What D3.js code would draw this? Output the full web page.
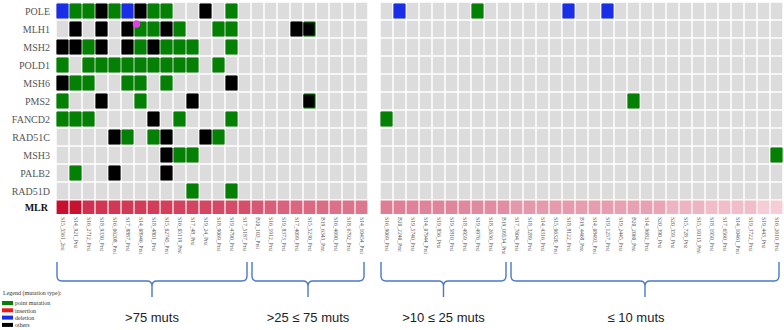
<!DOCTYPE html>
<html>
<head>
<meta charset="utf-8">
<script src="https://cdn.jsdelivr.net/npm/d3@7"></script>
<style>
  body { margin: 0; background: #fff; }
  svg { display: block; }
</style>
</head>
<body>
<svg id="chart" width="784" height="330"></svg>
<script>
// Genes (rows)
const genes = ['POLE', 'MLH1', 'MSH2', 'POLD1', 'MSH6', 'PMS2', 'FANCD2', 'RAD51C', 'MSH3', 'PALB2', 'RAD51D']

// Samples (columns), left and right panels
const leftSamples = ['S15_5561_2rst', 'S14_921_Prst', 'S16_2712_Prst', 'S18_9330_Prst', 'S16_06208_Prst',
    'S17_8887_Prst', 'S14_08946_Prst', 'S18_4801_Prst', 'S15_02745_Prst', 'S16_05119_Prst', 'S17_48_Prst',
    'S19_24_Prst', 'S18_9069_Prst', 'S19_4790_Prst', 'S17_5187_Prst',
    'B20_103_Prst', 'S16_1912_Prst', 'S19_8373_Prst', 'S17_4099_Prst', 'S15_5230_Prst', 'B19_6343_Prst',
    'S16_4690_Prst', 'S18_6792_Prst', 'S14_10454_Prst']
const rightSamples = ['S16_9069_Prst', 'B20_2240_Prst', 'S19_5740_Prst', 'S14_07944_Prst', 'S19_856_Prst',
    'S19_5810_Prst', 'S18_4959_Prst', 'S19_4976_Prst', 'S18_2636_Prst', 'B19_09534_Prst',
    'S17_7604_Prst', 'S18_3289_Prst', 'S14_4316_Prst', 'S15_06320_Prst', 'S18_8122_Prst', 'B19_4468_Prst',
    'S14_08493_Prst', 'S19_1257_Prst', 'S19_2445_Prst', 'B20_2060_Prst', 'S14_9682_Prst', 'S20_390_Prst',
    'S20_359_Prst', 'S15_728_Prst', 'S15_10115_Prst', 'S18_1950_Prst', 'S17_6560_Prst', 'S14_10461_Prst',
    'S19_3722_Prst', 'S19_443_Prst', 'S16_2610_Prst']

// Left panel mutation codes, one char per sample:
// g = point mutation, b = deletion, k = others, x = others + point mutation, . = none
const leftCodes = {
    POLE:   'bggkgbkgg..k.g.' + '.........',
    MLH1:   '.k.k.kggkg..gg.' + '...kx....',
    MSH2:   'kkgk.kgkggg..g.' + '.........',
    POLD1:  'g.ggggggggg.g..' + '.........',
    MSH6:   'kgg..gg.g....k.' + '.........',
    PMS2:   'g..k..g...k....' + '....x....',
    FANCD2: 'ggg....k.g...g.' + '.........',
    RAD51C: '....kg.gk..kg..' + '.........',
    MSH3:   '........kgg....' + '.........',
    PALB2:  '.g..k...k......' + '.........',
    RAD51D: '..........g..g.' + '.........'
}

// Right panel mutations [sample, gene, code]
const rightMutations = [
    ['B20_2240_Prst', 'POLE', 'b'],
    ['S19_4976_Prst', 'POLE', 'g'],
    ['S18_8122_Prst', 'POLE', 'b'],
    ['S19_1257_Prst', 'POLE', 'b'],
    ['B20_2060_Prst', 'PMS2', 'g'],
    ['S16_9069_Prst', 'FANCD2', 'g'],
    ['S16_2610_Prst', 'MSH3', 'g']
]

// Extra marker drawn over a cell
const dotMarkers = [['S14_08946_Prst', 'MLH1']]

// Mutation load (MLR row), left then right
const leftLoad = [310, 290, 150, 140, 135, 130, 125, 120, 115, 110, 105, 100, 95, 90, 85,
    70, 62, 56, 50, 46, 42, 38, 34, 30]
const rightLoad = [24, 23, 22, 21, 20, 19, 18, 17, 16, 15,
    10, 10, 9, 9, 9, 8, 8, 8, 7, 7, 7, 6,
    3, 3, 3, 2, 2, 2, 2, 1, 1]

// Groups for brackets
const groupLabels = ['>75 muts', '>25 \u2264 75 muts', '>10 \u2264 25 muts', '\u2264 10 muts']
const groupSizes = [15, 9, 10, 21]

// Legend
const legendLabels = ['point mutation', 'insertion', 'deletion', 'others']
const legendColors = ['#048004', '#f01818', '#1a2ee8', '#000000']

const colors = { g: '#048004', b: '#1a2ee8', k: '#000000' }

const svg = d3.select('#chart')

// Scales
const xLeft = d3.scaleBand().domain(leftSamples).range([56, 368])
const xRight = d3.scaleBand().domain(rightSamples).range([380, 783])
const yScale = d3.scaleBand().domain(genes).range([2, 200])
const loadColor = d3.scaleLog()
    .domain([1, 5, 15, 60, 300])
    .range(['#f4cdd6', '#eaa9b8', '#e18ea3', '#d9607c', '#c8102e'])
    .clamp(true)

const mlrY = 200.5
const mlrH = 13.5

// Draw one panel
function drawPanel(samples, xScale, load, mutations) {
    const g = svg.append('g')
    const bw = xScale.bandwidth()
    const bh = yScale.bandwidth()

    // background cells
    const cells = []
    genes.forEach(gene => samples.forEach(s => cells.push({ gene: gene, sample: s })))
    g.selectAll('.cell')
        .data(cells)
        .enter()
        .append('rect')
        .attr('class', 'cell')
        .attr('x', d => xScale(d.sample) + 0.75)
        .attr('y', d => yScale(d.gene) + 0.75)
        .attr('width', bw - 1.5)
        .attr('height', bh - 1.5)
        .style('fill', '#dcdcdc')

    // mutations
    const muts = g.selectAll('.mut')
        .data(mutations)
        .enter()
        .append('g')
        .attr('class', 'mut')
        .attr('transform', d => 'translate(' + xScale(d[0]) + ',' + yScale(d[1]) + ')')

    muts.append('rect')
        .attr('x', 0.4)
        .attr('y', 1.4)
        .attr('width', bw - 0.8)
        .attr('height', bh - 2.8)
        .attr('rx', 1.2)
        .style('fill', d => d[2] == 'x' ? colors.g : colors[d[2]])

    muts.filter(d => d[2] == 'x')
        .append('rect')
        .attr('x', 0.4)
        .attr('y', 2.4)
        .attr('width', bw - 1.8)
        .attr('height', bh - 4.8)
        .attr('rx', 1)
        .style('fill', colors.k)

    // MLR row
    g.selectAll('.mlr')
        .data(samples)
        .enter()
        .append('rect')
        .attr('class', 'mlr')
        .attr('x', d => xScale(d) + 0.6)
        .attr('y', mlrY)
        .attr('width', bw - 1.2)
        .attr('height', mlrH)
        .style('fill', (d, i) => loadColor(load[i]))

    // column labels
    g.selectAll('.col-label')
        .data(samples)
        .enter()
        .append('text')
        .attr('class', 'col-label')
        .attr('transform', d => 'translate(' + (xScale(d) + bw / 2 - 1.8) + ',217) rotate(90)')
        .attr('text-anchor', 'start')
        .style('font-family', 'Liberation Serif')
        .style('font-size', '5.6px')
        .style('fill', '#555')
        .text(d => d)
}

// Build left mutation list from codes
const leftMutations = []
genes.forEach(gene => {
    leftCodes[gene].split('').forEach((c, i) => {
        if (c != '.') leftMutations.push([leftSamples[i], gene, c])
    })
})

drawPanel(leftSamples, xLeft, leftLoad, leftMutations)
drawPanel(rightSamples, xRight, rightLoad, rightMutations)

// dot markers
svg.selectAll('.dot')
    .data(dotMarkers)
    .enter()
    .append('circle')
    .attr('cx', d => xLeft(d[0]) + 2.5)
    .attr('cy', d => yScale(d[1]) + 4)
    .attr('r', 3.8)
    .style('fill', '#e040e6')

// Row labels
svg.selectAll('.row-label')
    .data(genes)
    .enter()
    .append('text')
    .attr('class', 'row-label')
    .attr('x', 50)
    .attr('y', d => yScale(d) + yScale.bandwidth() / 2 + 3.5)
    .attr('text-anchor', 'end')
    .style('font-family', 'Liberation Serif')
    .style('font-size', '10px')
    .style('fill', '#555')
    .text(d => d)

svg.append('text')
    .attr('x', 48)
    .attr('y', mlrY + mlrH / 2 + 3.5)
    .attr('text-anchor', 'end')
    .style('font-family', 'Liberation Serif')
    .style('font-size', '10px')
    .style('font-weight', 'bold')
    .style('fill', '#111')
    .text('MLR')

// Brackets
const allSamples = leftSamples.concat(rightSamples)
const xOf = s => leftSamples.includes(s) ? xLeft(s) : xRight(s)
let start = 0
const brackets = groupSizes.map((n, i) => {
    const first = allSamples[start]
    const last = allSamples[start + n - 1]
    const scale = leftSamples.includes(first) ? xLeft : xRight
    start += n
    return { label: groupLabels[i], x0: xOf(first) + 1, x1: xOf(last) + scale.bandwidth() - 4 }
})

function bracePath(x0, x1) {
    const top = 262, yh = 281, tip = 297, r = 5
    const cx = (x0 + x1) / 2
    return 'M' + x0 + ',' + top + ' L' + x0 + ',' + (yh - r) +
        ' Q' + x0 + ',' + yh + ' ' + (x0 + r) + ',' + yh +
        ' L' + (cx - r) + ',' + yh +
        ' Q' + cx + ',' + yh + ' ' + cx + ',' + (yh + r) +
        ' L' + cx + ',' + tip +
        ' M' + cx + ',' + (yh + r) +
        ' Q' + cx + ',' + yh + ' ' + (cx + r) + ',' + yh +
        ' L' + (x1 - r) + ',' + yh +
        ' Q' + x1 + ',' + yh + ' ' + x1 + ',' + (yh - r) +
        ' L' + x1 + ',' + top
}

svg.selectAll('.brace')
    .data(brackets)
    .enter()
    .append('path')
    .attr('class', 'brace')
    .attr('d', d => bracePath(d.x0, d.x1))
    .style('fill', 'none')
    .style('stroke', '#4a78c8')
    .style('stroke-width', 1.4)

svg.selectAll('.brace-label')
    .data(brackets)
    .enter()
    .append('text')
    .attr('class', 'brace-label')
    .attr('x', (d, i) => (d.x0 + d.x1) / 2 - (i == 3 ? 9 : 0))
    .attr('y', 322)
    .attr('text-anchor', 'middle')
    .style('font-family', 'Liberation Sans')
    .style('font-size', '13px')
    .style('fill', '#222')
    .text(d => d.label)

// Legend
const legend = svg.append('g')
legend.append('text')
    .attr('x', 3)
    .attr('y', 295)
    .style('font-family', 'Liberation Serif')
    .style('font-size', '6px')
    .style('fill', '#333')
    .text('Legend (mutation type):')

const items = legend.selectAll('.legend-item')
    .data(legendLabels)
    .enter()
    .append('g')
    .attr('class', 'legend-item')
    .attr('transform', (d, i) => 'translate(2,' + (301 + i * 7.3) + ')')

items.append('rect')
    .attr('width', 11)
    .attr('height', 4)
    .style('fill', (d, i) => legendColors[i])

items.append('text')
    .attr('x', 13)
    .attr('y', 4.2)
    .style('font-family', 'Liberation Serif')
    .style('font-size', '6px')
    .style('fill', '#333')
    .text(d => d)
</script>
</body>
</html>
